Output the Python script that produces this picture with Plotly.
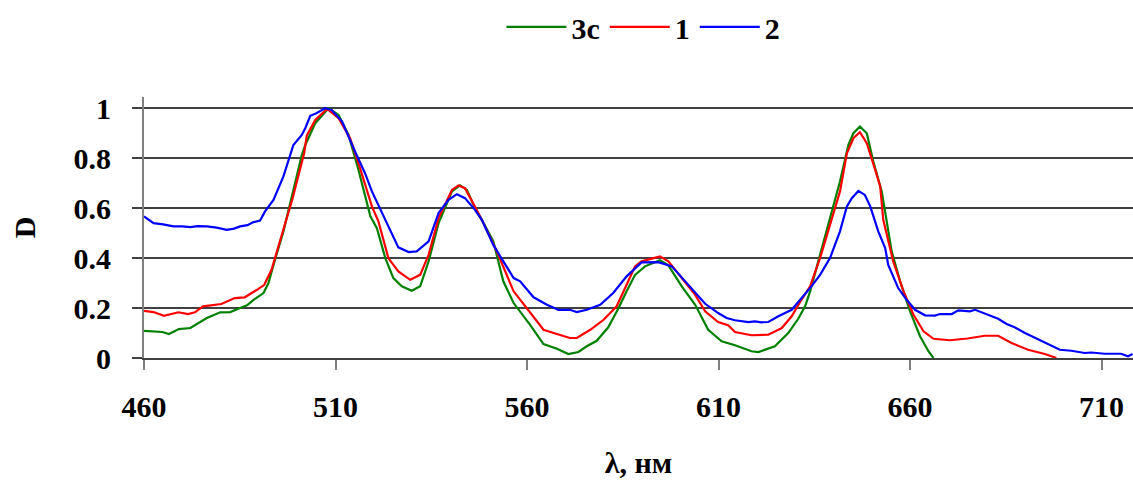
import plotly.graph_objects as go

# Absorption spectra: wavelength (nm) and optical density D for each sample
nm_3c = [460, 464.8, 466.5, 469.1, 472.1, 476.4, 479.9, 482.5, 485.1, 486.9, 488.6, 491.2,
         492.5, 493.8, 496.4, 499.0, 501.2, 502.1, 504.7, 508.2, 510.8, 513.4, 516.0, 519.1,
         520.8, 523.0, 525.1, 527.3, 529.9, 532.1, 534.3, 536.9, 540.4, 542.5, 544.3, 546.4,
         548.2, 551.2, 553.8, 556.5, 560.8, 564.3, 567.8, 570.8, 573.4, 575.6, 578.2, 581.2,
         583.9, 586.0, 588.2, 590.8, 594.7, 596.9, 600.4, 603.9, 607.3, 610.8, 614.3, 618.6,
         620.4, 624.7, 628.2, 630.8, 632.6, 633.9, 636.5, 639.1, 641.7, 643.9, 645.2, 646.9,
         648.7, 650.4, 652.6, 655.2, 657.4, 660.0, 662.6, 664.8, 666.1]
d_3c = [0.109, 0.104, 0.096, 0.116, 0.120, 0.160, 0.183, 0.184, 0.200, 0.211, 0.233, 0.260,
        0.300, 0.373, 0.507, 0.667, 0.813, 0.853, 0.940, 1.000, 0.973, 0.893, 0.753, 0.567,
        0.520, 0.400, 0.320, 0.287, 0.269, 0.287, 0.387, 0.540, 0.667, 0.691, 0.673, 0.600,
        0.553, 0.467, 0.307, 0.220, 0.133, 0.056, 0.037, 0.016, 0.024, 0.047, 0.069, 0.123,
        0.200, 0.267, 0.333, 0.367, 0.391, 0.371, 0.287, 0.213, 0.113, 0.067, 0.051, 0.027,
        0.024, 0.047, 0.100, 0.157, 0.207, 0.267, 0.413, 0.553, 0.707, 0.853, 0.900, 0.927,
        0.900, 0.787, 0.667, 0.427, 0.307, 0.187, 0.087, 0.027, 0.000]

nm_1 = [460, 462.5, 465.2, 467.7, 469.0, 471.5, 473.3, 475.4, 480.2, 483.7, 486.3, 489.8,
        491.4, 493.3, 494.2, 496.6, 498.8, 501.8, 502.5, 504.7, 507.8, 510.8, 513.8, 516.4,
        519.5, 521.2, 523.8, 526.4, 529.5, 532.1, 534.3, 536.9, 540.4, 542.1, 543.8, 546.4,
        548.2, 552.1, 554.7, 556.5, 559.9, 564.3, 567.8, 571.2, 573.0, 576.5, 580.0, 583.4,
        586.0, 588.2, 589.9, 592.5, 594.7, 596.9, 600.4, 603.9, 606.5, 609.9, 612.5, 614.3,
        618.6, 623.0, 626.5, 629.1, 631.5, 633.9, 636.5, 639.1, 641.7, 643.5, 645.2, 646.9,
        648.7, 650.9, 652.2, 653.0, 655.6, 658.3, 660.9, 663.5, 666.1, 670.4, 675.0, 679.5,
        683.0, 686.5, 690.8, 695.2, 698.2]
d_1 = [0.189, 0.184, 0.169, 0.180, 0.183, 0.176, 0.183, 0.207, 0.216, 0.240, 0.243, 0.276,
       0.293, 0.353, 0.400, 0.520, 0.640, 0.820, 0.890, 0.953, 0.997, 0.960, 0.880, 0.760,
       0.607, 0.547, 0.400, 0.347, 0.313, 0.333, 0.413, 0.560, 0.673, 0.691, 0.680, 0.607,
       0.553, 0.427, 0.333, 0.267, 0.200, 0.113, 0.096, 0.080, 0.080, 0.113, 0.153, 0.207,
       0.293, 0.367, 0.387, 0.397, 0.407, 0.387, 0.320, 0.253, 0.187, 0.144, 0.131, 0.104,
       0.091, 0.093, 0.120, 0.167, 0.230, 0.287, 0.400, 0.533, 0.667, 0.820, 0.880, 0.904,
       0.860, 0.753, 0.687, 0.553, 0.387, 0.267, 0.173, 0.107, 0.077, 0.071, 0.078, 0.089,
       0.089, 0.060, 0.033, 0.016, 0.000]

nm_2 = [460, 462.5, 465.0, 467.7, 470.0, 472.1, 474.0, 476.4, 479.0, 481.6, 483.5, 485.1,
        487.0, 488.6, 490.3, 491.6, 493.8, 496.4, 499.0, 501.2, 502.1, 503.4, 505.0, 507.3,
        509.0, 511.7, 515.1, 517.7, 519.5, 522.1, 525.1, 526.4, 529.1, 531.2, 534.3, 536.9,
        539.5, 541.7, 543.8, 546.4, 548.2, 551.2, 553.8, 556.5, 558.2, 561.7, 565.2, 568.2,
        571.2, 573.0, 575.6, 579.1, 582.5, 586.0, 589.9, 594.3, 597.8, 601.2, 603.9, 606.5,
        609.9, 612.1, 614.3, 617.8, 619.5, 621.2, 623.0, 625.6, 629.1, 631.3, 633.9, 636.5,
        639.1, 641.7, 643.5, 644.8, 646.5, 648.2, 649.6, 651.7, 653.5, 654.3, 656.9, 659.1,
        661.3, 663.9, 666.5, 667.8, 670.9, 672.6, 675.6, 677.0, 679.5, 683.0, 685.2, 687.3,
        690.0, 691.7, 695.2, 699.1, 702.1, 705.6, 707.3, 710.8, 715.1, 716.9, 718.1]
d_2 = [0.567, 0.540, 0.535, 0.527, 0.527, 0.524, 0.528, 0.527, 0.522, 0.513, 0.518, 0.527,
       0.532, 0.544, 0.550, 0.587, 0.633, 0.727, 0.853, 0.893, 0.920, 0.970, 0.980, 1.000,
       0.993, 0.947, 0.827, 0.740, 0.667, 0.580, 0.480, 0.443, 0.424, 0.427, 0.467, 0.580,
       0.633, 0.656, 0.640, 0.593, 0.553, 0.453, 0.387, 0.320, 0.307, 0.243, 0.213, 0.193,
       0.193, 0.184, 0.193, 0.213, 0.260, 0.327, 0.383, 0.384, 0.367, 0.307, 0.260, 0.217,
       0.180, 0.160, 0.151, 0.144, 0.147, 0.143, 0.144, 0.167, 0.193, 0.233, 0.280, 0.333,
       0.400, 0.507, 0.607, 0.640, 0.669, 0.653, 0.607, 0.507, 0.440, 0.373, 0.280, 0.233,
       0.193, 0.171, 0.170, 0.176, 0.176, 0.191, 0.187, 0.193, 0.177, 0.157, 0.136, 0.123,
       0.100, 0.087, 0.060, 0.033, 0.029, 0.020, 0.022, 0.017, 0.017, 0.007, 0.016]

series = [
    ("3c", nm_3c, d_3c, "#008000"),
    ("1", nm_1, d_1, "#ff0000"),
    ("2", nm_2, d_2, "#0000ff"),
]

x_ticks = [460, 510, 560, 610, 660, 710]
y_ticks = [0, 0.2, 0.4, 0.6, 0.8, 1]
y_tick_text = ["0", "0.2", "0.4", "0.6", "0.8", "1"]

FONT = "Liberation Serif"
TEXT = dict(family=FONT, size=30, color="black", weight="bold")

fig = go.Figure()
for name, xs, ys, color in series:
    fig.add_trace(go.Scatter(x=xs, y=ys, name=name, mode="lines",
                             line=dict(color=color, width=2.2)))

fig.update_layout(
    width=1133, height=480,
    margin=dict(l=144, r=0, t=97, b=122),
    paper_bgcolor="white", plot_bgcolor="white",
    font=TEXT,
    showlegend=True,
    legend=dict(orientation="h", x=0.505, xanchor="center",
                yref="container", y=0.944, yanchor="middle",
                font=TEXT, itemwidth=60, bgcolor="rgba(0,0,0,0)"),
)

fig.update_xaxes(
    range=[460, 718.2], tickmode="array", tickvals=x_ticks,
    ticks="outside", ticklen=10, tickwidth=2, tickcolor="#808080",
    showline=True, linecolor="#404040", linewidth=2,
    showgrid=False, zeroline=False, ticklabelstandoff=11,
    tickfont=TEXT,
    title=dict(text="λ, нм", standoff=30, font=TEXT),
)
fig.update_yaxes(
    range=[0, 1.045], tickmode="array", tickvals=y_ticks, ticktext=y_tick_text,
    ticks="outside", ticklen=10, tickwidth=1.5, tickcolor="#404040",
    showline=True, linecolor="#808080", linewidth=2,
    showgrid=True, gridcolor="#404040", gridwidth=1.5, zeroline=False,
    ticklabelstandoff=15, tickfont=TEXT,
    title=dict(text="D", standoff=29, font=TEXT),
)

fig.write_html("out.html")
